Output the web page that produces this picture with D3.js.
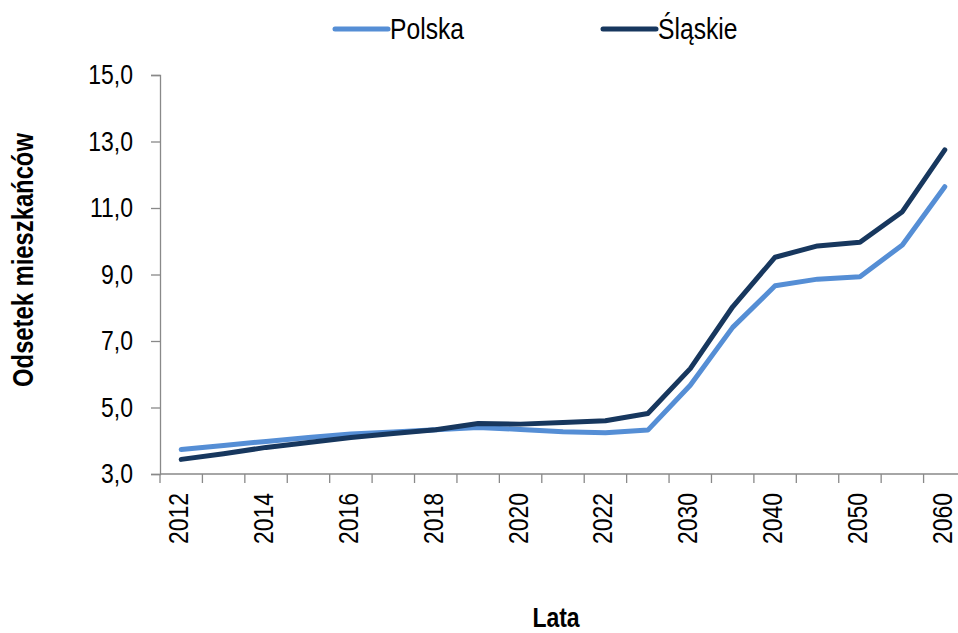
<!DOCTYPE html>
<html>
<head>
<meta charset="utf-8">
<script src="https://cdn.jsdelivr.net/npm/d3@7"></script>
<style>
  body { margin: 0; background: #fff; }
  svg text { font-family: "Liberation Sans", Arial, sans-serif; fill: #000; }
</style>
</head>
<body>
<svg id="chart" width="958" height="633"></svg>
<script>
// lata (kategorie osi X)
var years = ["2012","2013","2014","2015","2016","2017","2018","2019","2020","2021","2022",
             "2025","2030","2035","2040","2045","2050","2055","2060"];
// etykiety pokazane na osi
var shownYears = ["2012","2014","2016","2018","2020","2022","2030","2040","2050","2060"];
var yTicks = [3, 5, 7, 9, 11, 13, 15];

var polska  = [3.74, 3.86, 3.98, 4.10, 4.20, 4.26, 4.33, 4.40, 4.34, 4.27, 4.24,
               4.32, 5.67, 7.41, 8.66, 8.86, 8.93, 9.89, 11.64];
var slaskie = [3.44, 3.61, 3.80, 3.95, 4.10, 4.22, 4.33, 4.52, 4.50, 4.55, 4.60,
               4.82, 6.17, 8.03, 9.52, 9.86, 9.97, 10.89, 12.75];

var seriesNames = ["Polska", "Śląskie"];
var colors = ["#558ed5", "#17375e"];

var svg = d3.select("#chart");

var x = d3.scaleBand().domain(years).range([160, 966]);
var y = d3.scaleLinear().domain([3, 15]).range([474, 75]);

var fmt = function(d) { return d3.format(".1f")(d).replace(".", ","); };

// brak kroju "narrow" - sciskamy tekst recznie
function narrow(sel, k) {
  k = k || 0.82;
  sel.each(function() {
    var w = this.getComputedTextLength();
    d3.select(this).attr("textLength", w * k).attr("lengthAdjust", "spacingAndGlyphs");
  });
}

// os Y
var yAxis = svg.append("g")
  .attr("transform", "translate(160,0)")
  .call(d3.axisLeft(y).tickValues(yTicks).tickSize(9).tickPadding(18).tickFormat(fmt));
yAxis.select(".domain").attr("stroke", "#898989").attr("stroke-width", 1.3);
yAxis.selectAll(".tick line").attr("stroke", "#898989").attr("stroke-width", 1.3);
yAxis.selectAll(".tick text")
  .style("font-size", "28px").style("font-family", null)
  .call(narrow);

// os X - kreski na granicach kategorii
var xg = svg.append("g").attr("transform", "translate(0,474)");
xg.append("line")
  .attr("x1", 160).attr("x2", 966)
  .attr("stroke", "#898989").attr("stroke-width", 1.3);
xg.selectAll("line.tk")
  .data(years.concat(["end"]))
  .enter().append("line")
  .attr("class", "tk")
  .attr("x1", function(d, i) { return i < years.length ? x(d) : x.range()[1]; })
  .attr("x2", function(d, i) { return i < years.length ? x(d) : x.range()[1]; })
  .attr("y1", 0).attr("y2", 9)
  .attr("stroke", "#898989").attr("stroke-width", 1.3);
xg.selectAll("text")
  .data(shownYears)
  .enter().append("text")
  .attr("transform", function(d) {
    return "translate(" + (x(d) + x.bandwidth() / 2 + 7) + ",19) rotate(-90)";
  })
  .attr("text-anchor", "end")
  .style("font-size", "28px")
  .text(function(d) { return d; })
  .call(narrow);

// linie
var line = d3.line()
  .x(function(d, i) { return x(years[i]) + x.bandwidth() / 2; })
  .y(function(d) { return y(d); });

[polska, slaskie].forEach(function(s, k) {
  svg.append("path")
    .datum(s)
    .attr("d", line)
    .attr("fill", "none")
    .attr("stroke", colors[k])
    .attr("stroke-width", 5)
    .attr("stroke-linejoin", "round")
    .attr("stroke-linecap", "round");
});

// tytuly osi
svg.append("text")
  .attr("transform", "translate(33,260) rotate(-90)")
  .attr("text-anchor", "middle")
  .style("font-size", "29px").style("font-weight", "bold")
  .text("Odsetek mieszkańców")
  .call(narrow);

svg.append("text")
  .attr("x", 556).attr("y", 627)
  .attr("text-anchor", "middle")
  .style("font-size", "28px").style("font-weight", "bold")
  .text("Lata")
  .call(narrow);

// legenda
var legendX = [335, 603];
var lg = svg.selectAll("g.legend")
  .data(seriesNames)
  .enter().append("g")
  .attr("class", "legend")
  .attr("transform", function(d, i) { return "translate(" + legendX[i] + ",29)"; });
lg.append("line")
  .attr("x1", 0).attr("x2", 53)
  .attr("stroke", function(d, i) { return colors[i]; })
  .attr("stroke-width", 5)
  .attr("stroke-linecap", "round");
lg.append("text")
  .attr("x", 55).attr("y", 10)
  .style("font-size", "29px")
  .text(function(d) { return d; })
  .call(narrow, 0.85);
</script>
</body>
</html>
